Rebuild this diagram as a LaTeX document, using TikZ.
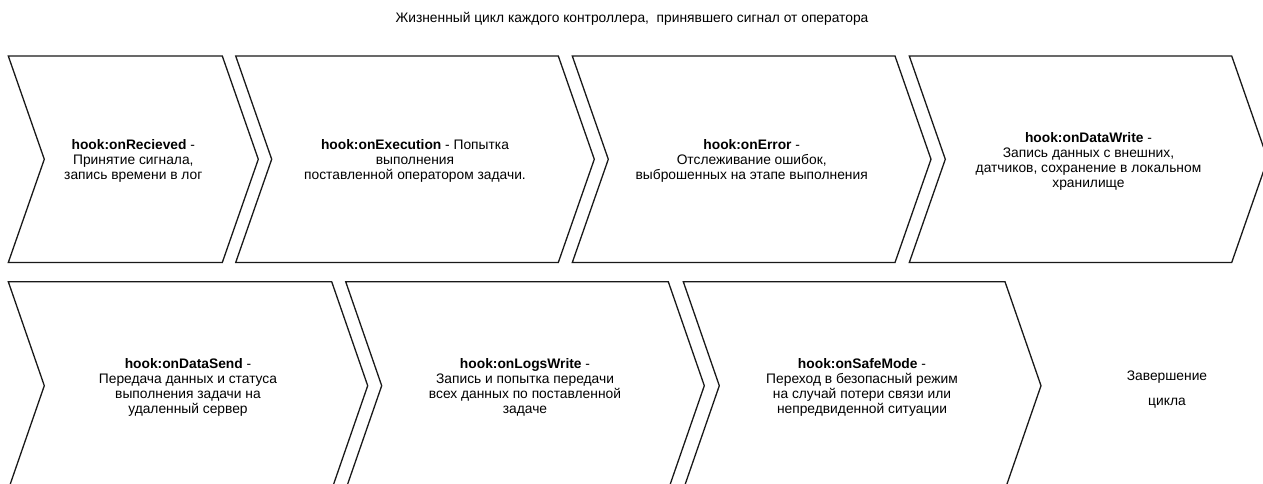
\documentclass[tikz,border=0pt]{standalone}
\usepackage{fontspec}
\setmainfont{Liberation Sans}
\begin{document}
\begin{tikzpicture}[x=1pt,y=-1pt,
  chevline/.style={draw=black!90, line width=1.3pt, line join=miter},
  lbl/.style={align=center, inner sep=0pt, font=\fontsize{13.8}{15}\selectfont},
]
\useasboundingbox (0,0) rectangle (1263,484);
\newcommand{\chevpath}[4]{%
  \draw[chevline] (#1,#3) -- (#2,#3) -- (#2+36,{(#3+#4)/2}) -- (#2,#4) -- (#1,#4) -- (#1+36,{(#3+#4)/2}) -- cycle;}
\begin{scope}
\clip (0,0) rectangle (1263,484);
% row 1
\chevpath{8.3}{222.3}{56}{262.5}
\chevpath{235.7}{558.3}{56}{262.5}
\chevpath{572.3}{895}{56}{262.5}
\chevpath{909.3}{1231.7}{56}{262.5}
% row 2
\chevpath{8.3}{331.7}{281.7}{489.7}
\chevpath{345.7}{668.3}{281.7}{489.7}
\chevpath{683.3}{1005}{281.7}{489.7}
\end{scope}

\node[lbl] (title) at (632,19) {Жизненный цикл каждого контроллера,\ \ принявшего сигнал от оператора};

\node[lbl] (t1) at (133.3,161) {\textbf{hook:onRecieved} -\\Принятие сигнала,\\запись времени в лог};
\node[lbl] (t2) at (415,161) {\textbf{hook:onExecution} - Попытка\\выполнения\\поставленной оператором задачи.};
\node[lbl] (t3) at (751.7,161) {\textbf{hook:onError} -\\Отслеживание ошибок,\\выброшенных на этапе выполнения};
\node[lbl] (t4) at (1088.5,161) {\textbf{hook:onDataWrite} -\\Запись данных с внешних,\\датчиков, сохранение в локальном\\хранилище};

\node[lbl] (t5) at (188,387) {\textbf{hook:onDataSend} -\\Передача данных и статуса\\выполнения задачи на\\удаленный сервер};
\node[lbl] (t6) at (525,387) {\textbf{hook:onLogsWrite} -\\Запись и попытка передачи\\всех данных по поставленной\\задаче};
\node[lbl] (t7) at (862,387) {\textbf{hook:onSafeMode} -\\Переход в безопасный режим\\на случай потери связи или\\непредвиденной ситуации};
\node[lbl] (t8) at (1167,390) {Завершение\\[10pt]цикла};
\end{tikzpicture}
\end{document}
